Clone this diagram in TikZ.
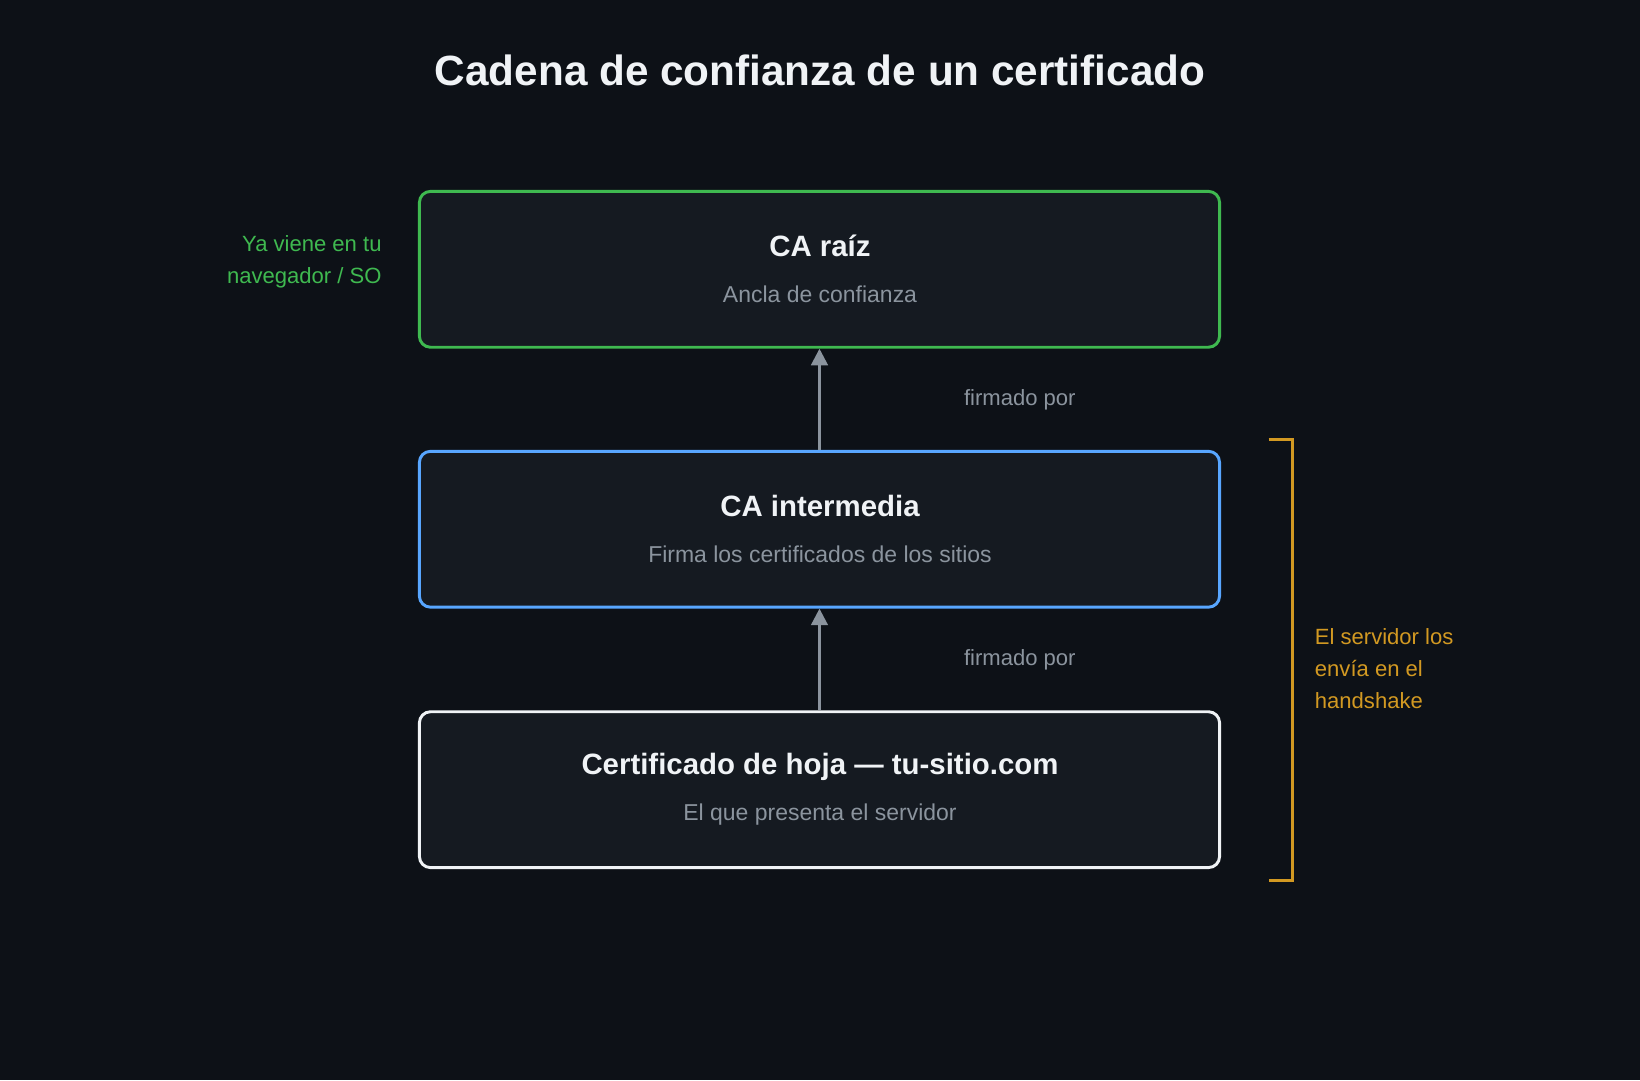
\documentclass[tikz,border=0pt]{standalone}
\usepackage{fontspec}
\setmainfont{Liberation Sans}
\usetikzlibrary{arrows.meta}
\definecolor{bg}{HTML}{0D1117}
\definecolor{boxfill}{HTML}{151A21}
\definecolor{txt}{HTML}{F0F3F6}
\definecolor{sub}{HTML}{8B949E}
\definecolor{grn}{HTML}{3FB950}
\definecolor{blu}{HTML}{58A6FF}
\definecolor{org}{HTML}{D29922}
\begin{document}
\begin{tikzpicture}[x=0.02cm,y=-0.02cm,
  box/.style={draw, line width=1.6pt, rounded corners=6pt, fill=boxfill, minimum width=765*0.02cm, minimum height=149*0.02cm, inner sep=0pt},
  ttl/.style={text=txt, font=\bfseries\fontsize{16}{19}\selectfont},
  st/.style={text=sub, font=\fontsize{12.5}{15}\selectfont},
  lbl/.style={font=\fontsize{12}{17.5}\selectfont},
  arr/.style={draw=sub, line width=1.5pt, -{Triangle[length=9pt,width=9pt]}}]
\fill[bg] (0,0) rectangle (1568,1033);
\node[text=txt, font=\bfseries\fontsize{23}{27}\selectfont] (title) at (784,67) {Cadena de confianza de un certificado};
\node[box, draw=grn] (root) at (783.5,257.5) {};
\node[box, draw=blu] (mid) at (783.5,506) {};
\node[box, draw=txt] (leaf) at (783.5,755) {};
\node[ttl] (rt) at (784,235) {CA raíz};
\node[st] (rs) at (784,281) {Ancla de confianza};
\node[ttl] (mt) at (784,484) {CA intermedia};
\node[st] (ms) at (784,530) {Firma los certificados de los sitios};
\node[ttl] (lt) at (784,733) {Certificado de hoja — tu-sitio.com};
\node[st] (ls) at (784,779) {El que presenta el servidor};
\draw[arr] (mid.north) -- (root.south);
\draw[arr] (leaf.north) -- (mid.south);
\node[st, font=\fontsize{12}{14}\selectfont] (f1) at (975,382) {firmado por};
\node[st, font=\fontsize{12}{14}\selectfont] (f2) at (975,631) {firmado por};
\node[lbl, text=grn, align=right, anchor=east] (left) at (371,250) {Ya viene en tu\\navegador / SO};
\coordinate (b1) at (1213,420);
\coordinate (b2) at (1236,420);
\coordinate (b3) at (1236,842);
\coordinate (b4) at (1213,842);
\draw[org, line width=1.6pt] (b1) -- (b2) -- (b3) -- (b4);
\node[lbl, text=org, align=left, anchor=west] (right) at (1251,639) {El servidor los\\envía en el\\handshake};
\end{tikzpicture}
\end{document}
